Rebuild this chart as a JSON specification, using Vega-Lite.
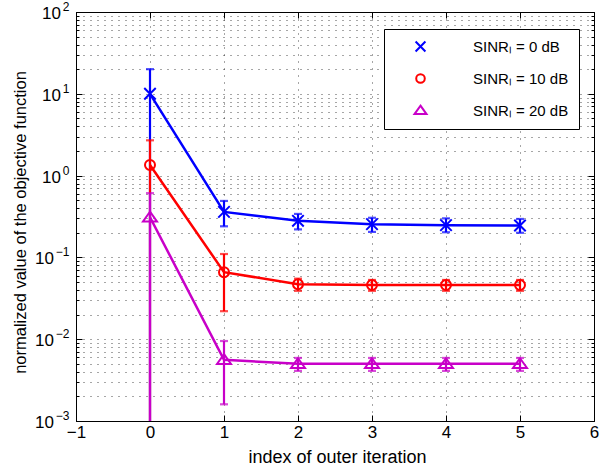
{
  "$schema": "https://vega.github.io/schema/vega-lite/v6.json",
  "width": 518,
  "height": 409,
  "autosize": {"type": "none"},
  "padding": {"left": 76, "top": 12, "right": 19, "bottom": 49},
  "background": "white",
  "config": {
    "view": {"stroke": "black", "strokeWidth": 1},
    "font": "Liberation Sans",
    "axis": {
      "labelFont": "Liberation Sans", "titleFont": "Liberation Sans",
      "labelColor": "black", "titleColor": "black", "domainColor": "black", "tickColor": "black",
      "titleFontWeight": "normal", "labelFontSize": 17, "titleFontSize": 17,
      "labelOverlap": false, "labelFlush": false, "labelBound": false,
      "gridColor": "#000000", "gridOpacity": 0.7, "gridDash": [1, 6], "gridWidth": 1
    },
    "legend": {
      "title": null, "strokeColor": "black", "fillColor": "white", "padding": 10,
      "symbolSize": 144, "symbolStrokeWidth": 2, "labelFontSize": 15,
      "labelFont": "Liberation Sans", "labelColor": "black",
      "symbolOffset": 19, "labelOffset": 45,
      "rowPadding": 14, "labelLimit": 0, "cornerRadius": 0, "symbolOpacity": 1
    }
  },
  "data": {"values": [
    {"series": "SINRₗ = 0 dB", "x": 0, "y": 10, "lo": 0.0002, "hi": 20},
    {"series": "SINRₗ = 0 dB", "x": 1, "y": 0.36, "lo": 0.24, "hi": 0.49},
    {"series": "SINRₗ = 0 dB", "x": 2, "y": 0.28, "lo": 0.22, "hi": 0.34},
    {"series": "SINRₗ = 0 dB", "x": 3, "y": 0.255, "lo": 0.205, "hi": 0.305},
    {"series": "SINRₗ = 0 dB", "x": 4, "y": 0.248, "lo": 0.203, "hi": 0.3},
    {"series": "SINRₗ = 0 dB", "x": 5, "y": 0.245, "lo": 0.2, "hi": 0.295},
    {"series": "SINRₗ = 10 dB", "x": 0, "y": 1.35, "lo": 0.0002, "hi": 2.7},
    {"series": "SINRₗ = 10 dB", "x": 1, "y": 0.066, "lo": 0.022, "hi": 0.11},
    {"series": "SINRₗ = 10 dB", "x": 2, "y": 0.047, "lo": 0.039, "hi": 0.055},
    {"series": "SINRₗ = 10 dB", "x": 3, "y": 0.046, "lo": 0.039, "hi": 0.053},
    {"series": "SINRₗ = 10 dB", "x": 4, "y": 0.046, "lo": 0.039, "hi": 0.053},
    {"series": "SINRₗ = 10 dB", "x": 5, "y": 0.046, "lo": 0.039, "hi": 0.053},
    {"series": "SINRₗ = 20 dB", "x": 0, "y": 0.31, "lo": 0.0002, "hi": 0.61},
    {"series": "SINRₗ = 20 dB", "x": 1, "y": 0.0056, "lo": 0.0016, "hi": 0.0095},
    {"series": "SINRₗ = 20 dB", "x": 2, "y": 0.005, "lo": 0.0041, "hi": 0.0059},
    {"series": "SINRₗ = 20 dB", "x": 3, "y": 0.005, "lo": 0.0041, "hi": 0.0059},
    {"series": "SINRₗ = 20 dB", "x": 4, "y": 0.005, "lo": 0.0041, "hi": 0.0059},
    {"series": "SINRₗ = 20 dB", "x": 5, "y": 0.005, "lo": 0.0041, "hi": 0.0059}
  ]},
  "layer": [
    {
      "mark": {"type": "rule", "strokeWidth": 2.2, "clip": true},
      "encoding": {
        "x": {"field": "x", "type": "quantitative",
          "scale": {"domain": [-1, 6], "nice": false, "zero": false},
          "axis": {"orient": "bottom", "values": [-1, 0, 1, 2, 3, 4, 5, 6], "format": "d",
            "tickSize": -6, "labelPadding": 9, "grid": true, "domain": true,
            "title": "index of outer iteration", "titleFontSize": 18, "titleX": 261, "titleY": 41,
            "titleBaseline": "alphabetic", "titleAlign": "center", "titleAngle": 0}},
        "y": {"field": "lo", "type": "quantitative",
          "scale": {"type": "log", "domain": [0.001, 100], "nice": false},
          "axis": {"orient": "left",
            "values": [0.001, 0.002, 0.003, 0.004, 0.005, 0.006, 0.007, 0.008, 0.009, 0.01, 0.02, 0.03, 0.04, 0.05, 0.06, 0.07, 0.08, 0.09, 0.1, 0.2, 0.3, 0.4, 0.5, 0.6, 0.7, 0.8, 0.9, 1, 2, 3, 4, 5, 6, 7, 8, 9, 10, 20, 30, 40, 50, 60, 70, 80, 90, 100],
            "labels": false,
            "tickSize": {"condition": {"test": "abs(log(datum.value)/LN10 - round(log(datum.value)/LN10)) < 1e-6", "value": -6}, "value": -3},
            "grid": true, "domain": true,
            "title": "normalized value of the objective function", "titleFontSize": 16.5,
            "titleX": -51, "titleY": 210, "titleAngle": -90,
            "titleBaseline": "alphabetic", "titleAlign": "center"}},
        "y2": {"field": "hi"},
        "color": {"field": "series", "type": "nominal",
          "scale": {"domain": ["SINRₗ = 20 dB", "SINRₗ = 10 dB", "SINRₗ = 0 dB"], "range": ["#c800c8", "#ff0000", "#0000ff"]},
          "legend": null}
      }
    },
    {
      "mark": {"type": "tick", "orient": "horizontal", "size": 8, "thickness": 2.2, "clip": true},
      "encoding": {
        "x": {"field": "x", "type": "quantitative",
          "axis": {"orient": "top", "values": [-1, 0, 1, 2, 3, 4, 5, 6], "tickSize": -6,
            "labels": false, "domain": false, "grid": false, "title": null}},
        "y": {"field": "hi", "type": "quantitative",
          "axis": {"orient": "left", "values": [0.001, 0.01, 0.1, 1, 10, 100],
            "labelExpr": "format(round(log(datum.value)/LN10), 'd')",
            "ticks": false, "domain": false, "grid": false,
            "labelFontSize": 12, "labelOffset": -5.5, "labelPadding": 7,
            "labelBaseline": "middle", "title": null}},
        "color": {"field": "series", "type": "nominal", "legend": null}
      }
    },
    {
      "mark": {"type": "tick", "orient": "horizontal", "size": 8, "thickness": 2.2, "clip": true},
      "encoding": {
        "x": {"field": "x", "type": "quantitative", "axis": null},
        "y": {"field": "lo", "type": "quantitative",
          "axis": {"orient": "right",
            "values": [0.001, 0.002, 0.003, 0.004, 0.005, 0.006, 0.007, 0.008, 0.009, 0.01, 0.02, 0.03, 0.04, 0.05, 0.06, 0.07, 0.08, 0.09, 0.1, 0.2, 0.3, 0.4, 0.5, 0.6, 0.7, 0.8, 0.9, 1, 2, 3, 4, 5, 6, 7, 8, 9, 10, 20, 30, 40, 50, 60, 70, 80, 90, 100],
            "tickSize": {"condition": {"test": "abs(log(datum.value)/LN10 - round(log(datum.value)/LN10)) < 1e-6", "value": -6}, "value": -3},
            "labels": false, "domain": false, "grid": false, "title": null}},
        "color": {"field": "series", "type": "nominal", "legend": null}
      }
    },
    {
      "mark": {"type": "line", "strokeWidth": 2.5},
      "encoding": {
        "x": {"field": "x", "type": "quantitative", "axis": null},
        "y": {"field": "y", "type": "quantitative",
          "axis": {"orient": "left", "values": [1, 10, 100], "labelExpr": "'10'",
            "ticks": false, "domain": false, "grid": false,
            "labelPadding": 15.5, "labelOffset": 1.5, "labelBaseline": "middle", "title": null}},
        "color": {"field": "series", "type": "nominal", "legend": null}
      }
    },
    {
      "mark": {"type": "point", "filled": false, "strokeWidth": 2, "opacity": 1, "size": 196},
      "encoding": {
        "x": {"field": "x", "type": "quantitative", "axis": null},
        "y": {"field": "y", "type": "quantitative",
          "axis": {"orient": "left", "values": [0.001, 0.01, 0.1], "labelExpr": "'10'",
            "ticks": false, "domain": false, "grid": false,
            "labelPadding": 22.5, "labelOffset": 1.5, "labelBaseline": "middle", "title": null}},
        "stroke": {"field": "series", "type": "nominal",
          "scale": {"domain": ["SINRₗ = 0 dB", "SINRₗ = 10 dB", "SINRₗ = 20 dB"], "range": ["#0000ff", "#ff0000", "#c800c8"]},
          "legend": {"orient": "none", "legendX": 308, "legendY": 17}},
        "shape": {"field": "series", "type": "nominal",
          "scale": {"domain": ["SINRₗ = 0 dB", "SINRₗ = 10 dB", "SINRₗ = 20 dB"],
            "range": ["M-0.82,-0.82L0.82,0.82M-0.82,0.82L0.82,-0.82", "M0.714,0A0.714,0.714,0,1,1,-0.714,0A0.714,0.714,0,1,1,0.714,0", "M0,-0.8L1,0.6L-1,0.6Z"]},
          "legend": {"orient": "none", "legendX": 308, "legendY": 17}}
      }
    }
  ],
  "resolve": {"axis": {"x": "independent", "y": "independent"}}
}
